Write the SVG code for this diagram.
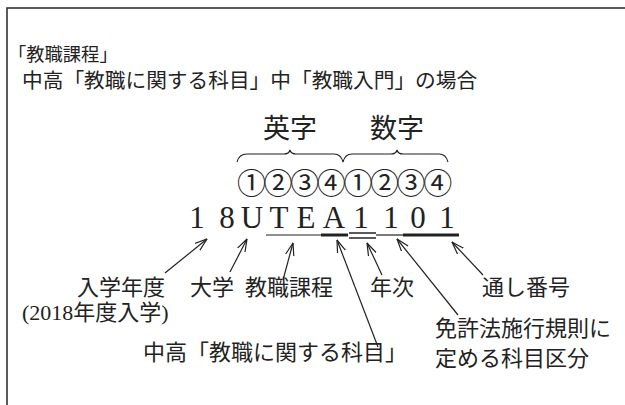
<svg xmlns="http://www.w3.org/2000/svg" width="625" height="405" viewBox="0 0 625 405">
<style>
.t{font-family:"Liberation Serif","Noto Sans CJK JP",serif;fill:#222;}
.j{font-family:"Noto Sans CJK JP","Noto Sans CJK SC",sans-serif;fill:#222;}
.lbl{font-size:22px;}
.code{font-family:"Liberation Serif",serif;font-size:31px;fill:#222;text-anchor:middle;}
.arr{stroke:#222;stroke-width:1.2;fill:none;marker-end:url(#ah);}
.ul{stroke:#222;fill:none;}
</style>
<defs>
<marker id="ah" viewBox="0 0 13 10" refX="12.5" refY="5" markerWidth="13" markerHeight="10" orient="auto" markerUnits="userSpaceOnUse">
<path d="M0,0.8 L12.5,5 L0,9.2" fill="none" stroke="#222" stroke-width="1.2"/>
</marker>
</defs>
<rect x="0" y="0" width="625" height="405" fill="#fff"/>
<rect id="frame" x="7" y="8" width="700" height="500" fill="none" stroke="#333" stroke-width="1.6"/>

<g id="title">
<text class="j" x="8" y="60.5" font-size="18.3">「教職課程」</text>
<text class="j" x="22" y="87.5" font-size="20.7">中高「教職に関する科目」中「教職入門」の場合</text>
</g>

<g id="group-labels">
<text class="j" x="290" y="138" font-size="27" text-anchor="middle">英字</text>
<text class="j" x="397" y="138" font-size="27" text-anchor="middle">数字</text>
<path class="ul" stroke-width="1.1" d="M237,162 Q239,154 247,154 L284,154 Q289,154 290,150 Q291,154 296,154 L334,154 Q341,154 343,162 Q345,154 352,154 L391,154 Q396,154 397,150 Q398,154 403,154 L439,154 Q446,154 448,162"/>
<text class="j" x="237" y="194" font-size="29" letter-spacing="-2.4">①②③④①②③④</text>
</g>

<g id="code">
<text class="code" x="197" y="228">1</text>
<text class="code" x="227" y="228">8</text>
<text class="code" x="252" y="228">U</text>
<text class="code" x="279" y="228">T</text>
<text class="code" x="306" y="228">E</text>
<text class="code" x="334" y="228">A</text>
<text class="code" x="361" y="228">1</text>
<text class="code" x="391" y="228">1</text>
<text class="code" x="418" y="228">0</text>
<text class="code" x="447" y="228">1</text>
</g>

<g id="underlines">
<line class="ul" x1="266" y1="235" x2="321" y2="235" stroke-width="1.2"/>
<line class="ul" x1="321" y1="235" x2="348" y2="235" stroke-width="3"/>
<line class="ul" x1="349" y1="233" x2="376" y2="233" stroke="#666" stroke-width="1.5"/>
<line class="ul" x1="349" y1="238" x2="376" y2="238" stroke="#666" stroke-width="1.5"/>
<line class="ul" x1="376" y1="235" x2="403" y2="235" stroke-width="1.2"/>
<line class="ul" x1="403" y1="235" x2="459" y2="235" stroke-width="3"/>
</g>

<g id="connectors">
<line class="arr" x1="165" y1="273" x2="207" y2="239"/>
<line class="arr" x1="230" y1="272" x2="247" y2="239"/>
<line class="arr" x1="283" y1="280" x2="293" y2="243"/>
<line class="arr" x1="378" y1="347" x2="337" y2="240"/>
<line class="arr" x1="382" y1="275" x2="367" y2="243"/>
<line class="arr" x1="458" y1="315" x2="397" y2="239"/>
<line class="arr" x1="483" y1="275" x2="452" y2="242"/>
</g>

<g id="label-nyugaku">
<text class="t lbl" x="77" y="295">入学年度</text>
<text class="t lbl" x="22" y="320">(2018年度入学)</text>
</g>
<g id="label-daigaku"><text class="t lbl" x="190" y="295">大学</text></g>
<g id="label-kyoshoku"><text class="t lbl" x="245" y="295">教職課程</text></g>
<g id="label-nenji"><text class="t lbl" x="370" y="295">年次</text></g>
<g id="label-tooshi"><text class="t lbl" x="482" y="295">通し番号</text></g>
<g id="label-kubun">
<text class="t lbl" x="435" y="336">免許法施行規則に</text>
<text class="t lbl" x="435" y="366">定める科目区分</text>
</g>
<g id="label-chuko"><text class="t lbl" x="143" y="360">中高「教職に関する科目」</text></g>
</svg>
